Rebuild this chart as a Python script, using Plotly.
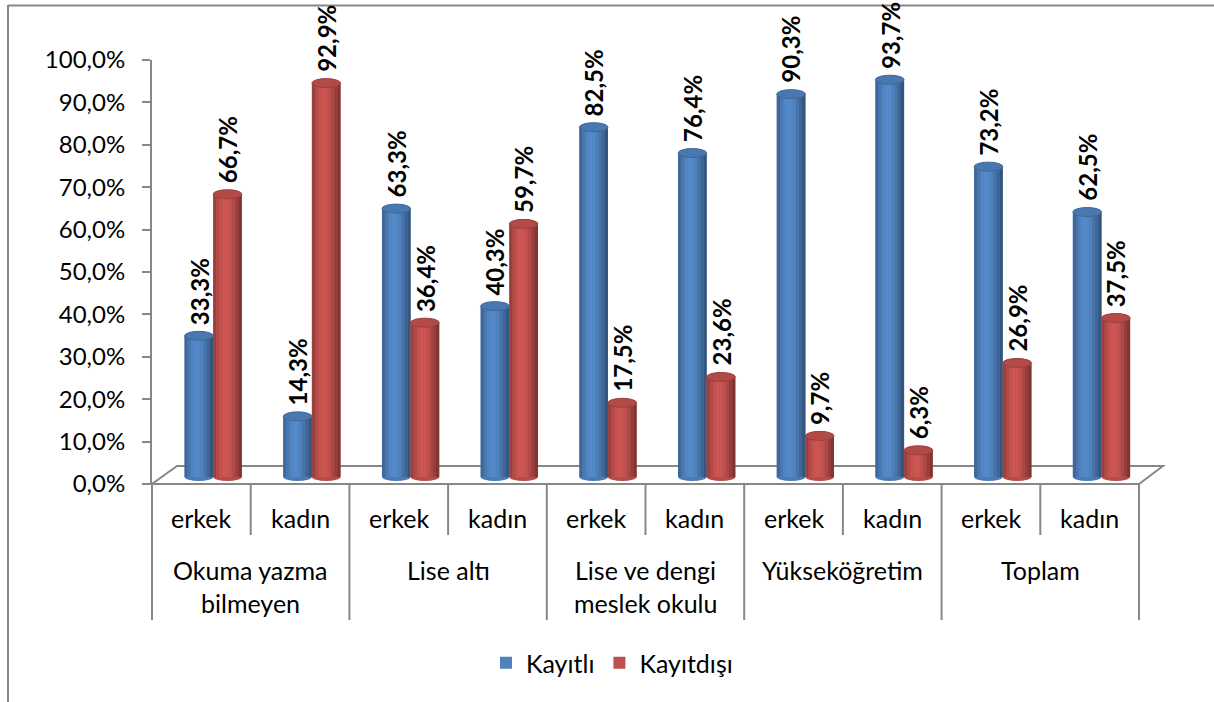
import plotly.graph_objects as go

# ---------------- data ----------------
groups = ["Okuma yazma\nbilmeyen", "Lise altı", "Lise ve dengi\nmeslek okulu", "Yükseköğretim", "Toplam"]
genders = ["erkek", "kadın"]
kayitli = [33.3, 14.3, 63.3, 40.3, 82.5, 76.4, 90.3, 93.7, 73.2, 62.5]
kayitdisi = [66.7, 92.9, 36.4, 59.7, 17.5, 23.6, 9.7, 6.3, 26.9, 37.5]
series_names = ["Kayıtlı", "Kayıtdışı"]
y_ticks = [0, 10, 20, 30, 40, 50, 60, 70, 80, 90, 100]
y_ticktext = [("%.1f%%" % v).replace(".", ",") for v in y_ticks]

# ---------------- style / geometry ----------------
W, H = 1214, 702
L, R = 152, 1139          # pixel x of plot area
T, B = 60, 484            # pixel y of 100% and 0%
FONT = "Lato"
FS = 25
GREY = "#878787"
BLUE = (79, 129, 189)
RED = (192, 80, 77)
BAR_W = 0.29
OFFS = [-0.17, 0.12]      # left edge of each series' bar relative to category centre
BASE_PX = 477             # pixel y of bar base (3D depth shift)

def px_x(p):
    return (p - L) / (R - L)

def px_y(p):
    return (B - p) / (B - T)

def rgb(c, f=1.0):
    return "rgb(%d,%d,%d)" % tuple(max(0, min(255, int(round(v * f)))) for v in c)

n = len(kayitli)
xs = list(range(n))
fig = go.Figure()

# anchor trace so the primary (visible) value axis is drawn
fig.add_trace(go.Scatter(x=[xs[0]], y=[y_ticks[0]], mode="markers", marker=dict(opacity=0),
                         hoverinfo="skip", showlegend=False))

# y2 range: value 0 at BASE_PX, same scale as primary axis
scale = (B - T) / 100.0
y2_range = [-(B - BASE_PX) / scale, (BASE_PX - T) / scale]

profile = [0.80, 0.92, 1.02, 1.07, 1.06, 1.0, 0.9, 0.78, 0.66]
for s, (vals, col) in enumerate(zip([kayitli, kayitdisi], [BLUE, RED])):
    fig.add_trace(go.Bar(
        x=xs, y=vals, name=series_names[s], yaxis="y2",
        width=BAR_W, offset=OFFS[s], marker=dict(color=rgb(col), line=dict(width=0)),
        hoverinfo="skip", showlegend=True))
    sw = BAR_W / len(profile)
    for k, f in enumerate(profile):
        fig.add_trace(go.Bar(
            x=xs, y=vals, yaxis="y2", width=sw, offset=OFFS[s] + k * sw,
            marker=dict(color=rgb(col, f), line=dict(width=0)),
            hoverinfo="skip", showlegend=False))

shapes = []
annotations = []
for s, (vals, col) in enumerate(zip([kayitli, kayitdisi], [BLUE, RED])):
    for i, v in enumerate(vals):
        x0 = i + OFFS[s]
        x1 = x0 + BAR_W
        # bottom ellipse
        shapes.append(dict(type="circle", xref="x", yref="y2", x0=x0, x1=x1,
                           ysizemode="pixel", yanchor=0, y0=-4, y1=4,
                           fillcolor=rgb(col, 0.95), line=dict(width=0), layer="below"))
        # top ellipse
        shapes.append(dict(type="circle", xref="x", yref="y2", x0=x0, x1=x1,
                           ysizemode="pixel", yanchor=v, y0=-4.5, y1=4.5,
                           fillcolor=rgb(col, 0.93), line=dict(color=rgb(col, 0.8), width=1),
                           layer="above"))
        annotations.append(dict(
            x=(x0 + x1) / 2, y=v, xref="x", yref="y2", text=("%.1f%%" % v).replace(".", ","),
            textangle=-90, showarrow=False, yanchor="bottom", xanchor="center", yshift=9,
            font=dict(family=FONT, size=24, color="black", weight="bold")))

# floor (3D base)
floor_path = "M %f,%f L %f,%f L %f,%f L %f,%f Z" % (
    px_x(152), px_y(484), px_x(1139), px_y(484), px_x(1163), px_y(466), px_x(177), px_y(466))
shapes.append(dict(type="path", xref="paper", yref="paper", path=floor_path,
                   line=dict(color=GREY, width=2), fillcolor="rgba(0,0,0,0)", layer="below"))

# category table lines
for k in range(n + 1):
    xp = px_x(L + k * (R - L) / n)
    bottom = 620 if k % 2 == 0 else 535
    shapes.append(dict(type="line", xref="paper", yref="paper", x0=xp, x1=xp,
                       y0=px_y(484), y1=px_y(bottom), line=dict(color=GREY, width=2)))

# chart outer border (left and top)
shapes.append(dict(type="line", xref="paper", yref="paper", x0=px_x(8), x1=px_x(8),
                   y0=px_y(5), y1=px_y(H), line=dict(color=GREY, width=2)))
shapes.append(dict(type="line", xref="paper", yref="paper", x0=px_x(8), x1=px_x(W),
                   y0=px_y(5.5), y1=px_y(5.5), line=dict(color=GREY, width=2)))

# category labels
for i in range(n):
    annotations.append(dict(x=i, y=px_y(518), xref="x", yref="paper", text=genders[i % 2],
                            showarrow=False, yanchor="middle",
                            font=dict(family=FONT, size=FS, color="black")))
for g, name in enumerate(groups):
    for j, line in enumerate(name.split("\n")):
        annotations.append(dict(x=2 * g + 0.5, y=px_y(570 + 33 * j), xref="x", yref="paper",
                                text=line, showarrow=False, yanchor="middle",
                                font=dict(family=FONT, size=FS, color="black")))

fig.update_layout(
    width=W, height=H,
    margin=dict(l=L, r=W - R, t=T, b=H - B, pad=0),
    paper_bgcolor="white", plot_bgcolor="rgba(0,0,0,0)",
    barmode="overlay",
    font=dict(family=FONT, size=FS, color="black"),
    xaxis=dict(range=[-0.5, n - 0.5], showticklabels=False, showgrid=False,
               zeroline=False, showline=False, ticks=""),
    yaxis=dict(range=[0, 100], tickvals=y_ticks, ticktext=y_ticktext,
               showgrid=False, zeroline=False, showline=True, linecolor=GREY, linewidth=2,
               ticks="outside", ticklen=8, tickcolor=GREY, tickwidth=2, ticklabelstandoff=12,
               tickfont=dict(family=FONT, size=24, color="black")),
    yaxis2=dict(range=y2_range, overlaying="y", visible=False),
    legend=dict(orientation="h", x=px_x(612), xanchor="center", y=px_y(663), yanchor="middle",
                font=dict(family=FONT, size=FS, color="black"), itemwidth=30,
                traceorder="normal"),
    shapes=shapes, annotations=annotations,
)

fig.write_html("out.html", config={"displayModeBar": False},
               post_script="document.body.style.margin='0px';")
